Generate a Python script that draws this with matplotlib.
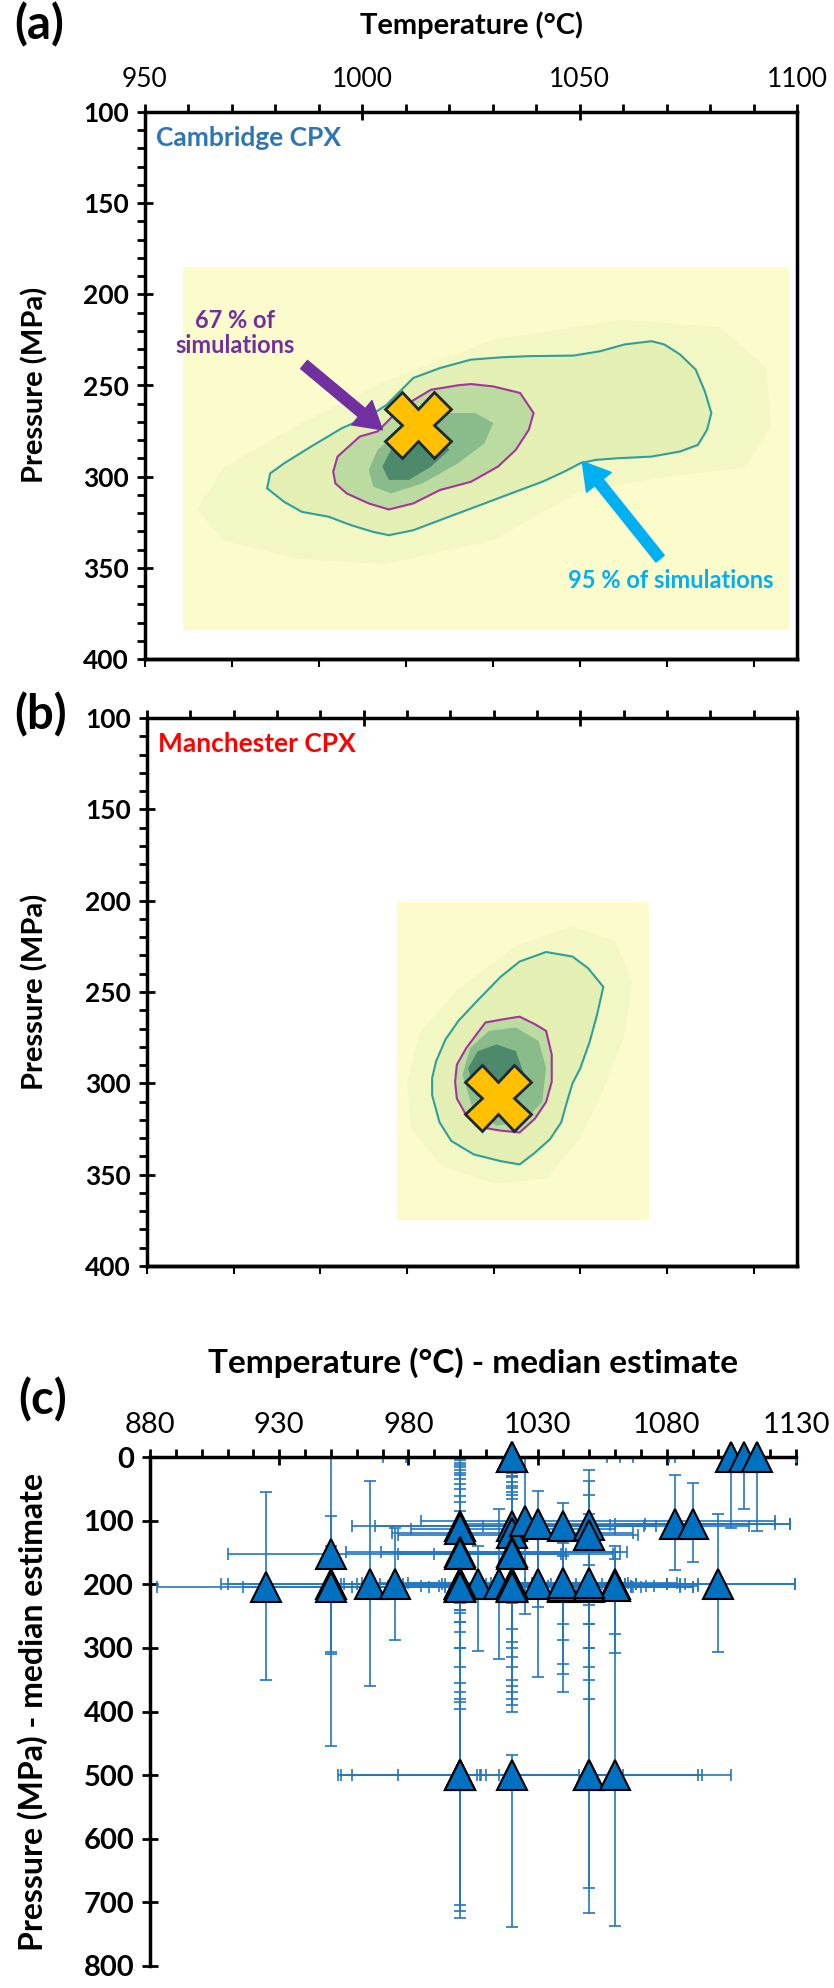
import matplotlib

matplotlib.use("Agg")
import matplotlib.pyplot as plt
import numpy as np
from matplotlib.patches import Polygon, Rectangle
from matplotlib.ticker import MultipleLocator

plt.rcParams["font.family"] = ["Lato", "DejaVu Sans"]

# ---------------- values (T in degC, P in MPa) ----------------
ab_xticks = [950, 1000, 1050, 1100]
ab_yticks = [100, 150, 200, 250, 300, 350, 400]
c_xticks = [880, 930, 980, 1030, 1080, 1130]
c_yticks = [0, 100, 200, 300, 400, 500, 600, 700, 800]

# panel (a) - Cambridge CPX
a_rect_T = [958.8, 1098.2]
a_rect_P = [185, 384]
a_best = (1012.7, 271.6)
a_halo_T = [962, 968, 985, 1005, 1030, 1060, 1082, 1093, 1094, 1088, 1070, 1050, 1030, 1005, 985, 968]
a_halo_P = [318, 295, 272, 248, 225, 214, 218, 240, 272, 295, 300, 308, 335, 348, 345, 335]
a_c95_T = [978.1, 978.8, 982.0, 988.2, 995.3, 1001.5, 1005.6, 1011.7, 1017.9, 1025.0, 1032.2,
           1038.3, 1048.6, 1054.7, 1060.3, 1066.5, 1069.5, 1073.1, 1076.7, 1078.8, 1080.3,
           1079.3, 1077.2, 1073.1, 1066.5, 1058.8, 1053.7, 1050.1, 1046.5, 1041.4, 1034.2,
           1028.1, 1019.9, 1011.7, 1006.1, 1002.5, 997.4, 992.3, 986.1, 982.0]
a_c95_P = [306.4, 298.2, 292.7, 283.5, 273.4, 267.0, 260.6, 245.9, 240.4, 235.8, 234.5,
           233.9, 233.6, 231.2, 227.5, 225.7, 227.5, 233.0, 241.3, 253.2, 265.1,
           274.3, 282.6, 286.2, 289.0, 289.9, 290.8, 292.7, 297.2, 302.8, 309.2,
           314.7, 322.0, 329.4, 332.1, 330.3, 326.6, 322.0, 319.3, 313.8]
a_c67_T = [993.3, 994.3, 999.4, 1003.5, 1009.0, 1015.8, 1022.0, 1025.0, 1030.1, 1036.3, 1039.4,
           1038.3, 1035.3, 1031.2, 1025.0, 1017.9, 1011.7, 1006.1, 1001.5, 996.4, 993.8]
a_c67_P = [297.2, 289.0, 278.0, 275.2, 262.0, 252.3, 249.9, 249.2, 250.5, 254.1, 265.1,
           274.3, 285.3, 294.5, 302.8, 307.3, 314.7, 318.0, 314.7, 309.2, 303.7]
a_core_T = [1001.5, 1003.5, 1009.7, 1017.9, 1026.0, 1030.1, 1028.1, 1022.0, 1013.8, 1006.6, 1002.5]
a_core_P = [296.3, 285.3, 272.5, 265.1, 265.1, 270.6, 281.7, 292.7, 303.7, 309.2, 305.5]
a_inner_T = [1004.6, 1006.6, 1011.7, 1017.9, 1020.0, 1015.8, 1010.7, 1006.1]
a_inner_P = [294.5, 285.3, 279.8, 278.0, 285.3, 294.5, 301.8, 301.8]

# panel (b) - Manchester CPX
b_rect_T = [1007.7, 1065.8]
b_rect_P = [201, 375]
b_best = (1031.1, 308.3)
b_halo_T = [1010, 1013, 1022, 1035, 1048, 1058, 1062, 1060, 1055, 1050, 1042, 1030, 1018, 1011]
b_halo_P = [300, 272, 248, 225, 214, 222, 245, 275, 305, 330, 352, 355, 345, 325]
b_c95_T = [1015.8, 1016.7, 1018.9, 1021.9, 1026.3, 1031.6, 1036.0, 1042.1, 1048.2, 1051.8, 1055.3,
           1053.9, 1052.2, 1050.0, 1048.2, 1046.9, 1045.6, 1043.0, 1039.5, 1036.0, 1031.6,
           1025.4, 1020.2, 1017.5, 1015.8]
b_c95_P = [297.2, 288.0, 275.9, 265.7, 254.6, 241.7, 233.3, 228.1, 230.6, 237.0, 247.2,
           262.0, 276.9, 291.7, 300.0, 310.2, 321.3, 330.6, 338.0, 344.4, 342.6,
           338.9, 331.5, 321.3, 306.5]
b_c67_T = [1021.1, 1021.5, 1023.7, 1028.1, 1032.5, 1036.0, 1039.5, 1042.1, 1043.4, 1043.4,
           1042.1, 1039.5, 1036.0, 1031.6, 1027.2, 1023.7, 1021.5]
b_c67_P = [299.1, 289.8, 280.6, 266.7, 264.8, 263.5, 267.6, 271.3, 284.3, 299.1,
           310.2, 319.4, 326.9, 325.9, 324.1, 317.6, 308.3]
b_core_T = [1022.8, 1024.6, 1028.9, 1035.1, 1040.4, 1042.1, 1041.2, 1036.8, 1030.7, 1025.4]
b_core_P = [295.4, 280.6, 271.3, 269.4, 276.9, 291.7, 310.2, 321.3, 323.1, 315.7]
b_inner_T = [1024.1, 1026.3, 1030.7, 1035.1, 1036.8, 1035.1, 1030.7, 1025.9]
b_inner_P = [291.7, 282.4, 278.7, 282.4, 293.5, 306.5, 312.0, 306.5]

# panel (c) - median estimates with error bar limits
c_T = [1020, 1020, 1105, 1110, 1115,
       1000, 1000, 1020, 1020, 1025, 1030, 1040, 1050, 1050, 1083, 1090,
       950, 1000, 1000, 1020, 1020,
       925, 950, 950, 965, 975, 1000, 1000, 1000, 1000, 1000, 1007, 1015,
       1020, 1020, 1020, 1020, 1030, 1040, 1040, 1050, 1050, 1060, 1060, 1100,
       1000, 1000, 1000, 1000, 1020, 1020, 1020, 1020, 1040, 1040, 1050, 1050,
       1000, 1000, 1000, 1020, 1050, 1050, 1060]
c_P = [0, 0, 0, 0, 0,
       108, 113, 108, 120, 100, 105, 108, 107, 122, 105, 105,
       153, 150, 152, 150, 152,
       205, 200, 205, 200, 200, 200, 200, 203, 205, 200, 200, 200,
       200, 203, 205, 200, 200, 200, 205, 200, 205, 200, 203, 200,
       200, 202, 198, 204, 200, 202, 198, 204, 202, 198, 202, 198,
       500, 500, 500, 500, 500, 500, 500]
c_T_lo = [970, 979, 1081, 1067, 1083,
          958, 981, 967, 973.5, 985, 999.6, 1009, 1021, 976, 1060, 1071.5,
          910, 955.7, 976, 969.5, 990,
          882.6, 907.5, 916, 954, 910, 960, 969, 976, 988, 993, 976, 994,
          955, 985, 1000, 1005, 1010, 1015, 1020, 1025, 1030, 1040, 1045, 1080,
          965, 972, 980, 958, 978, 992, 962, 1008, 1018, 1012, 1034, 1028,
          954, 952.6, 958, 976, 1015, 1007.8, 1046]
c_T_hi = [1057, 1062, 1130, 1130, 1130,
          1071, 1060, 1112, 1067, 1122, 1127.5, 1076, 1058, 1069, 1127.5, 1122,
          1041, 1062, 1039, 1064.5, 1059,
          994, 1040, 1066, 1064, 1080, 1030, 1045, 1060, 1090, 1040, 1087, 1085,
          1068, 1092, 1067, 1129.6, 1064, 1080, 1070, 1068, 1090, 1092, 1085, 1129.6,
          1035, 1052, 1065, 1048, 1055, 1075, 1062, 1085, 1066, 1084, 1072, 1062,
          1008, 1006.7, 1010, 1063, 1093.6, 1092, 1105]
c_P_lo = [0, 0, 0, 0, 0,
          5, 15, 8, 30, 0, 53, 73, 20, 38, 28, 41,
          0, 10, 25, 45, 60,
          55, 92, 140, 38, 111, 20, 35, 50, 62, 70, 140, 81,
          8, 25, 40, 55, 100, 155, 190, 145, 170, 140, 160, 90,
          12, 28, 42, 85, 15, 32, 48, 66, 120, 135, 60, 90,
          240, 260, 225, 468, 300, 330, 150]
c_P_hi = [30, 20, 112, 82, 116,
          240, 300, 230, 290, 247, 235, 325, 262, 300, 178, 165,
          454, 396, 380, 350, 370,
          350, 307, 309, 360, 287, 230, 260, 300, 330, 370, 305, 317,
          300, 330, 360, 400, 345, 369, 341, 381, 350, 278, 308, 307,
          245, 275, 355, 385, 270, 315, 380, 390, 262, 288, 232, 262,
          714, 704, 725, 739, 716, 677, 737]

BG_YELLOW = "#fbfbcb"
SHADES = ["#f3f7c3", "#e4efb4", "#bcdba0", "#89bb8b", "#4d8a6c"]
TEAL = "#2f9f9b"
PURPLE_LINE = "#a3359a"

W, H = 834, 1988
fig = plt.figure(figsize=(W / 100, H / 100), dpi=100)


def px_axes(left, top, right, bottom):
    return fig.add_axes([left / W, 1 - bottom / H, (right - left) / W, (bottom - top) / H])


def density_panel(ax, rect_T, rect_P, layers, c95, c67, best):
    ax.add_patch(Rectangle((rect_T[0], rect_P[0]), rect_T[1] - rect_T[0], rect_P[1] - rect_P[0],
                           facecolor=BG_YELLOW, edgecolor="none", zorder=0.5))
    for i, ((ts, ps), col) in enumerate(zip(layers, SHADES)):
        ax.add_patch(Polygon(np.column_stack([ts, ps]), closed=True, facecolor=col,
                             edgecolor="none", zorder=0.6 + 0.01 * i))
    ax.add_patch(Polygon(np.column_stack(c95), closed=True, fill=False, edgecolor=TEAL, lw=1.5, zorder=2))
    ax.add_patch(Polygon(np.column_stack(c67), closed=True, fill=False, edgecolor=PURPLE_LINE, lw=1.5, zorder=2))
    ax.plot(best[0], best[1], marker="X", ms=47, mfc="#FFC000", mec="#1b2a38", mew=2, zorder=3)


def style_frame(ax, top_labels):
    ax.set_xlim(950, 1100)
    ax.set_ylim(400, 100)
    ax.xaxis.set_ticks_position("top")
    ax.set_xticks(ab_xticks, labels=[str(t) for t in ab_xticks], fontsize=19)
    ax.set_yticks(ab_yticks, labels=[str(p) for p in ab_yticks], fontsize=19, fontweight="bold")
    ax.xaxis.set_minor_locator(MultipleLocator(10))
    ax.yaxis.set_minor_locator(MultipleLocator(10))
    ax.tick_params(axis="x", which="major", direction="inout", length=11, width=2,
                   top=True, bottom=False, labeltop=top_labels, labelbottom=False, pad=9)
    ax.tick_params(axis="x", which="minor", direction="out", length=6, width=2, top=True, bottom=False)
    ax.tick_params(axis="y", which="major", direction="inout", length=11, width=2, pad=6)
    ax.tick_params(axis="y", which="minor", direction="out", length=6, width=2)
    for s in ax.spines.values():
        s.set_linewidth(2.5)
    sec = ax.secondary_xaxis("bottom")
    sec.set_xticks(list(range(950, 1100, 20)))
    sec.tick_params(direction="out", length=6, width=1.5, labelbottom=False)
    sec.spines["bottom"].set_linewidth(2.5)


ARROW = "simple,head_length=0.8,head_width=0.95,tail_width=0.32"

# ---------------- panel (a) ----------------
ax_a = px_axes(145, 112, 797, 659)
density_panel(ax_a, a_rect_T, a_rect_P,
              [(a_halo_T, a_halo_P), (a_c95_T, a_c95_P), (a_c67_T, a_c67_P),
               (a_core_T, a_core_P), (a_inner_T, a_inner_P)],
              (a_c95_T, a_c95_P), (a_c67_T, a_c67_P), a_best)
style_frame(ax_a, True)
ax_a.text(952.5, 114, "Cambridge CPX", color="#2E75B6", fontsize=19, fontweight="bold", va="center")
ax_a.text(970.8, 221, "67 % of\nsimulations", color="#7030A0", fontsize=17, fontweight="bold",
          ha="center", va="center", linespacing=1.1)
ax_a.annotate("", xy=(1004.6, 274.3), xytext=(986.6, 238.5),
              arrowprops=dict(arrowstyle=ARROW, color="#7030A0", mutation_scale=24,
                              shrinkA=0, shrinkB=0), zorder=4)
ax_a.text(1071, 357, "95 % of simulations", color="#00B0F0", fontsize=17, fontweight="bold",
          ha="center", va="center")
ax_a.annotate("", xy=(1050.6, 291.7), xytext=(1068.5, 345),
              arrowprops=dict(arrowstyle=ARROW, color="#00B0F0", mutation_scale=24,
                              shrinkA=0, shrinkB=0), zorder=4)

# ---------------- panel (b) ----------------
ax_b = px_axes(147, 718, 797, 1266)
density_panel(ax_b, b_rect_T, b_rect_P,
              [(b_halo_T, b_halo_P), (b_c95_T, b_c95_P), (b_c67_T, b_c67_P),
               (b_core_T, b_core_P), (b_inner_T, b_inner_P)],
              (b_c95_T, b_c95_P), (b_c67_T, b_c67_P), b_best)
style_frame(ax_b, False)
ax_b.text(952.5, 114, "Manchester CPX", color="#FF0000", fontsize=19, fontweight="bold", va="center")

# ---------------- panel (c) ----------------
ax_c = px_axes(150, 1457, 796, 1966)
T = np.array(c_T, float)
P = np.array(c_P, float)
xerr = [T - np.array(c_T_lo), np.array(c_T_hi) - T]
yerr = [P - np.array(c_P_lo), np.array(c_P_hi) - P]
ax_c.errorbar(T, P, xerr=xerr, yerr=yerr, fmt="none", ecolor="#2277c4", elinewidth=1.2,
              capsize=4, capthick=1.2, zorder=2)
ax_c.plot(T, P, "^", ms=21, mfc="#0070C0", mec="black", mew=1.5, ls="none", zorder=3, clip_on=False)
ax_c.set_xlim(880, 1130)
ax_c.set_ylim(800, 0)
ax_c.xaxis.set_ticks_position("top")
ax_c.set_xticks(c_xticks, labels=[str(t) for t in c_xticks], fontsize=21)
ax_c.set_yticks(c_yticks, labels=[str(p) for p in c_yticks], fontsize=21, fontweight="bold")
ax_c.xaxis.set_minor_locator(MultipleLocator(10))
ax_c.tick_params(axis="x", which="major", direction="inout", length=11, width=2,
                 top=True, bottom=False, labeltop=True, labelbottom=False, pad=8)
ax_c.tick_params(axis="x", which="minor", direction="out", length=6, width=2, top=True, bottom=False)
ax_c.tick_params(axis="y", which="major", direction="inout", length=11, width=2, pad=6)
ax_c.spines["right"].set_visible(False)
ax_c.spines["bottom"].set_visible(False)
ax_c.spines["top"].set_linewidth(2.5)
ax_c.spines["left"].set_linewidth(2.5)

# ---------------- figure-level labels ----------------
bold = dict(fontweight="bold")
fig.text(14 / W, 1 - 2 / H, "(a)", fontsize=34, va="top", ha="left", **bold)
fig.text(471 / W, 1 - 25 / H, "Temperature (°C)", fontsize=21, ha="center", va="center", **bold)
fig.text(35 / W, 1 - 385 / H, "Pressure (MPa)", fontsize=21, rotation=90, ha="center", va="center", **bold)
fig.text(14 / W, 1 - 692 / H, "(b)", fontsize=34, va="top", ha="left", **bold)
fig.text(35 / W, 1 - 992 / H, "Pressure (MPa)", fontsize=21, rotation=90, ha="center", va="center", **bold)
fig.text(473 / W, 1 - 1363 / H, "Temperature (°C) - median estimate", fontsize=24, ha="center", va="center", **bold)
fig.text(18 / W, 1 - 1377 / H, "(c)", fontsize=34, va="top", ha="left", **bold)
fig.text(33 / W, 1 - 1712 / H, "Pressure (MPa) - median estimate", fontsize=23, rotation=90,
         ha="center", va="center", **bold)

fig.savefig("out.png", dpi=100)
